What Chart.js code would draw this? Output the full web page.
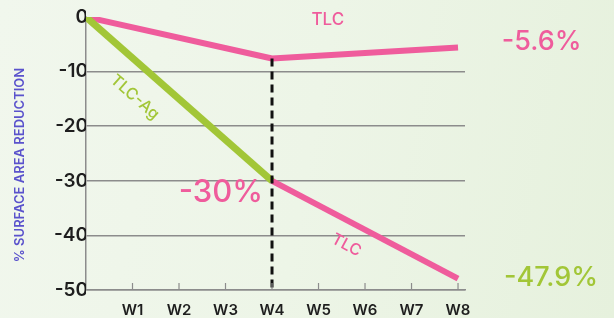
<!DOCTYPE html>
<html>
<head>
<meta charset="utf-8">
<script src="https://cdn.jsdelivr.net/npm/chart.js@4.4.0/dist/chart.umd.min.js"></script>
<style>
  html, body { margin: 0; padding: 0; }
  body {
    width: 614px; height: 318px; overflow: hidden;
    background: linear-gradient(100deg, #f1f7ed 0%, #edf5e7 50%, #e6f1dd 100%);
  }
  #wrap { position: relative; width: 614px; height: 318px; }
</style>
</head>
<body>
<div id="wrap"><canvas id="chart" width="614" height="318"></canvas></div>
<script>
// weeks on the x axis (0 = start)
var weekTicks = ['', 'W1', 'W2', 'W3', 'W4', 'W5', 'W6', 'W7', 'W8'];
var yTicks = [0, -10, -20, -30, -40, -50];

// TLC from start to week 8
var tlcWeeks = [0, 4, 8];
var tlcValues = [0, -7.6, -5.6];

// TLC-Ag for the first 4 weeks
var agWeeks = [0, 4];
var agValues = [0, -30];

// TLC after TLC-Ag (weeks 4 to 8)
var tlcAfterWeeks = [4, 8];
var tlcAfterValues = [-30, -47.9];

// dashed marker at W4
var markerWeeks = [4, 4];
var markerValues = [-7.6, -50];

var pink = '#ef5c9c';
var green = '#a2c637';
var font = 'Inter';

function toPoints(xs, ys) {
    var pts = [];
    for (var i = 0; i < xs.length; i++) pts.push({x: xs[i], y: ys[i]});
    return pts;
}

// text annotations anchored to data coordinates
var notes = [
    {text: 'TLC', x: 5.2, y: -0.5, size: 17, color: pink, angle: 0},
    {text: '-5.6%', x: 9.8, y: -4.6, size: 27, color: pink, angle: 0},
    {text: 'TLC-Ag', x: 1.05, y: -14.7, size: 16, color: green, angle: 41},
    {text: '-30%', x: 2.9, y: -32.2, size: 31, color: pink, angle: 0},
    {text: 'TLC', x: 5.6, y: -41.8, size: 16, color: pink, angle: 28},
    {text: '-47.9%', x: 10.0, y: -47.8, size: 27, color: green, angle: 0}
];

var extras = {
    id: 'extras',
    afterDraw: function(chart) {
        var ctx = chart.ctx;
        var xs = chart.scales.x, ys = chart.scales.y;
        // small inside ticks on x axis
        ctx.save();
        ctx.strokeStyle = '#8c8c8c';
        ctx.lineWidth = 1.2;
        for (var i = 1; i < weekTicks.length; i++) {
            var px = xs.getPixelForValue(i);
            ctx.beginPath();
            ctx.moveTo(px, ys.getPixelForValue(-50));
            ctx.lineTo(px, ys.getPixelForValue(-50) - 7);
            ctx.stroke();
        }
        ctx.restore();

        notes.forEach(function(n) {
            ctx.save();
            ctx.translate(xs.getPixelForValue(n.x), ys.getPixelForValue(n.y));
            ctx.rotate(n.angle * Math.PI / 180);
            ctx.font = '500 ' + n.size + 'px ' + font;
            ctx.fillStyle = n.color;
            ctx.textAlign = 'center';
            ctx.textBaseline = 'middle';
            ctx.fillText(n.text, 0, 0);
            ctx.restore();
        });

        // y axis title
        ctx.save();
        ctx.translate(20, 165);
        ctx.rotate(-Math.PI / 2);
        ctx.font = '600 13px ' + font;
        ctx.fillStyle = '#5a52cc';
        ctx.textAlign = 'center';
        ctx.textBaseline = 'middle';
        ctx.fillText('% SURFACE AREA REDUCTION', 0, 0);
        ctx.restore();
    }
};

new Chart(document.getElementById('chart'), {
    type: 'line',
    data: {
        datasets: [
            {data: toPoints(markerWeeks, markerValues), borderColor: '#111', borderWidth: 3,
             borderDash: [8, 5], pointRadius: 0},
            {data: toPoints(agWeeks, agValues), borderColor: green, borderWidth: 7, pointRadius: 0},
            {data: toPoints(tlcWeeks, tlcValues), borderColor: pink, borderWidth: 6, pointRadius: 0},
            {data: toPoints(tlcAfterWeeks, tlcAfterValues), borderColor: pink, borderWidth: 6, pointRadius: 0}
        ]
    },
    options: {
        responsive: false,
        animation: false,
        layout: {padding: {top: 17, right: 149, left: 0, bottom: 0}},
        plugins: {legend: {display: false}, tooltip: {enabled: false}},
        elements: {line: {tension: 0, borderCapStyle: 'butt', borderJoinStyle: 'round'}},
        scales: {
            x: {
                type: 'linear', min: 0, max: 8.15,
                afterFit: function(s) { s.height = 28; },
                afterBuildTicks: function(s) {
                    s.ticks = weekTicks.map(function(t, i) { return {value: i}; });
                },
                ticks: {
                    autoSkip: false, maxRotation: 0, padding: 3,
                    color: '#1e1e1e', font: {family: font, size: 15, weight: '600'},
                    callback: function(v) { return weekTicks[v]; }
                },
                grid: {display: false},
                border: {display: true, color: '#8c8c8c', width: 1.5}
            },
            y: {
                min: -50, max: 0,
                afterFit: function(s) { s.width = 86; },
                afterBuildTicks: function(s) {
                    s.ticks = yTicks.map(function(v) { return {value: v}; });
                },
                ticks: {
                    padding: -2,
                    color: '#1e1e1e', font: {family: font, size: 19, weight: '600'}
                },
                grid: {
                    drawTicks: false,
                    color: function(c) { return c.tick && c.tick.value === 0 ? 'rgba(0,0,0,0)' : '#8c8c8c'; },
                    lineWidth: 1.5
                },
                border: {display: true, color: '#8c8c8c', width: 1.5}
            }
        }
    },
    plugins: [extras]
});
</script>
</body>
</html>
